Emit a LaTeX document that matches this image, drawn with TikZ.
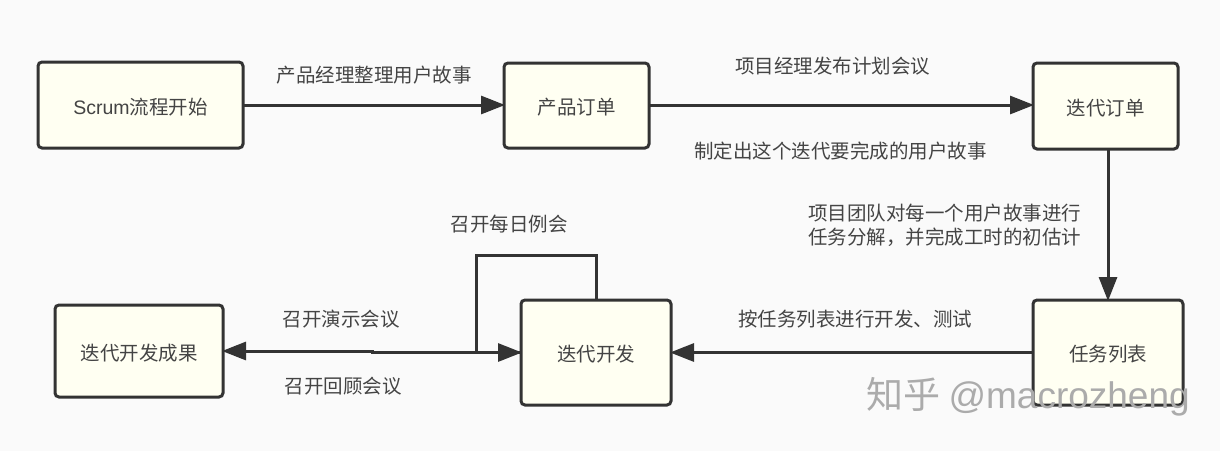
\documentclass[tikz,border=0pt]{standalone}
\usepackage{fontspec}
\setmainfont{Noto Sans CJK SC}
\newfontfamily\latinfont{Liberation Sans}
\usetikzlibrary{arrows.meta}
\definecolor{bgc}{HTML}{FAFAFA}
\definecolor{boxfill}{HTML}{FFFFF2}
\definecolor{ink}{HTML}{333333}
\definecolor{txt}{HTML}{444444}
\newcommand{\lowered}[1]{\raisebox{-2pt}[\height][\depth]{#1}}
\tikzset{
  px/.style={x=1pt,y=-1pt},
  stagebox/.style={draw=ink,fill=boxfill,line width=3pt,rounded corners=4pt,outer sep=0pt,inner sep=0pt,text=txt,font=\fontsize{19.5}{24}\selectfont,anchor=center},
  flow/.style={draw=ink,line width=3pt,-{Triangle[length=24pt,width=18pt]},shorten >=-1pt},
  plain/.style={draw=ink,line width=3pt},
  note/.style={text=txt,font=\fontsize{19.5}{24}\selectfont,inner sep=0pt,align=center},
  mark text/.style={inner sep=0pt,font=\fontsize{37}{42}\selectfont}
}
\begin{document}
\begin{tikzpicture}[px]
\useasboundingbox (0,0) rectangle (1220,451);
\fill[bgc] (0,0) rectangle (1220,451);
\node[stagebox,minimum width=205pt,minimum height=86pt] (A) at (140.5,105) {\lowered{{\latinfont Scrum}流程开始}};
\node[stagebox,minimum width=145pt,minimum height=85pt] (B) at (576.5,105.5) {\lowered{产品订单}};
\node[stagebox,minimum width=145pt,minimum height=86pt] (C) at (1105.5,106) {\lowered{迭代订单}};
\node[stagebox,minimum width=150pt,minimum height=105pt] (D) at (1108,352.5) {\lowered{任务列表}};
\node[stagebox,minimum width=150pt,minimum height=105pt] (E) at (596,352.5) {\lowered{迭代开发}};
\node[stagebox,minimum width=168pt,minimum height=92pt] (F) at (139,351) {\lowered{迭代开发成果}};
\coordinate (stepR) at (372,352.5);
\coordinate (stepL) at (372,351);
\coordinate (loopA) at (596,255);
\coordinate (loopB) at (476,255);
\coordinate (loopC) at (476,352.5);
\draw[flow] (A.east |- 0,105) -- (B.west |- 0,105);
\draw[flow] (B.east |- 0,105) -- (C.west |- 0,105);
\draw[flow] (1108,149) -- (D.north);
\draw[flow] (D.west) -- (E.east);
\draw[plain] (E.north) -- (loopA) -- (loopB) -- (loopC);
\draw[flow] (loopC) -- (E.west);
\draw[flow] (E.west) -- (stepR) -- (stepL) -- (F.east);
\node[note] (n1) at (374,75) {产品经理整理用户故事};
\node[note] (n2) at (832.5,66) {项目经理发布计划会议};
\node[note] (n3) at (840.5,151) {制定出这个迭代要完成的用户故事};
\node[note] (n4) at (944.5,225) {项目团队对每一个用户故事进行\\任务分解，并完成工时的初估计};
\node[note] (n5) at (509,224) {召开每日例会};
\node[note] (n6) at (341,319) {召开演示会议};
\node[note] (n7) at (343,386) {召开回顾会议};
\node[note] (n8) at (855,319) {按任务列表进行开发、测试};
\node[mark text,text=black!33] (m1) at (1028,397) {知乎 {\latinfont @macrozheng}};
\end{tikzpicture}
\end{document}
